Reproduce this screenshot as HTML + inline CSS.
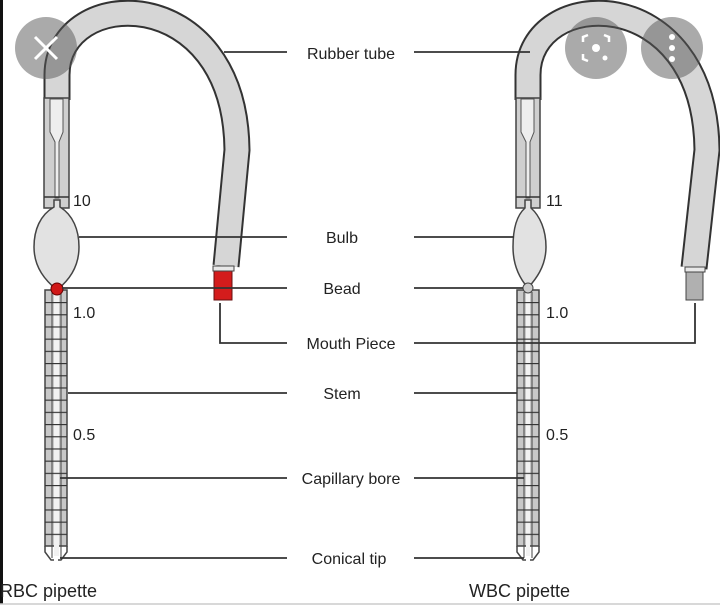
<!DOCTYPE html>
<html><head><meta charset="utf-8"><style>
html,body{margin:0;padding:0;background:#fff;}
svg{display:block;}
text{font-family:"Liberation Sans",sans-serif;fill:#222;}
</style></head><body>
<svg width="720" height="610" viewBox="0 0 720 610" xmlns="http://www.w3.org/2000/svg">
<defs>
<pattern id="tk" x="0" y="302" width="10" height="12.2" patternUnits="userSpaceOnUse">
<line x1="0" y1="0.5" x2="10" y2="0.5" stroke="#333" stroke-width="1.3"/>
</pattern>
</defs>
<rect width="720" height="610" fill="#fff"/>
<line x1="1.5" y1="0" x2="1.5" y2="604" stroke="#111" stroke-width="3"/>
<line x1="0" y1="604" x2="720" y2="604" stroke="#ccc" stroke-width="1.5"/>

<!-- LEFT PIPETTE -->
<g>
<path d="M57,100 L57,75 C57,-15 235,-20 237,150 L226,266" fill="none" stroke="#333" stroke-width="27"/>
<path d="M57,100 L57,75 C57,-15 235,-20 237,150 L226,266" fill="none" stroke="#d6d6d6" stroke-width="23"/>
<rect x="44" y="98" width="25" height="110" fill="#cfcfcf" stroke="#444" stroke-width="1.5"/>
<path d="M50,99 L63,99 L63,132 L59,142 L59,198 L55,198 L55,142 L50,132 Z" fill="#eee" stroke="#555" stroke-width="1"/>
<line x1="44" y1="197" x2="69" y2="197" stroke="#333" stroke-width="1.5"/>
<path d="M54,200 L54,207 C40,215 34,230 34,247 C34,268 46,281 57,290 C68,281 79,268 79,247 C79,230 73,215 60,207 L60,200Z" fill="#e2e2e2" stroke="#444" stroke-width="1.5"/>
<rect x="45" y="290" width="22" height="256" fill="#c8c8c8" stroke="#444" stroke-width="1.5"/>
<rect x="54" y="292" width="5" height="264" fill="#f2f2f2"/>
<line x1="52" y1="292" x2="52" y2="558" stroke="#444" stroke-width="1"/>
<line x1="61" y1="292" x2="61" y2="558" stroke="#444" stroke-width="1"/>
<rect x="45" y="292" width="22" height="254" fill="url(#tk)"/>
<path d="M45,546 L45,552 L51,560 L54,560 M67,546 L67,552 L61,560 L58,560" fill="none" stroke="#444" stroke-width="1.5"/>
<circle cx="57" cy="289" r="6" fill="#d01818" stroke="#600" stroke-width="1"/>
<rect x="214" y="270" width="18" height="30" fill="#d41c1c" stroke="#611" stroke-width="1"/>
<rect x="213" y="266" width="21" height="5" fill="#e8e8e8" stroke="#444" stroke-width="1"/>
</g>

<!-- RIGHT PIPETTE -->
<g>
<path d="M528,100 L528,75 C528,-15 705,-20 707,150 L694,268" fill="none" stroke="#333" stroke-width="27"/>
<path d="M528,100 L528,75 C528,-15 705,-20 707,150 L694,268" fill="none" stroke="#d6d6d6" stroke-width="23"/>
<rect x="516" y="98" width="24" height="110" fill="#cfcfcf" stroke="#444" stroke-width="1.5"/>
<path d="M521,99 L534,99 L534,132 L530,142 L530,198 L526,198 L526,142 L521,132 Z" fill="#eee" stroke="#555" stroke-width="1"/>
<line x1="516" y1="197" x2="540" y2="197" stroke="#333" stroke-width="1.5"/>
<path d="M525,200 L525,208 C516,216 513,230 513,247 C513,267 521,280 528,288 C535,280 546,267 546,247 C546,230 540,216 531,208 L531,200Z" fill="#e2e2e2" stroke="#444" stroke-width="1.5"/>
<rect x="517" y="290" width="22" height="256" fill="#c8c8c8" stroke="#444" stroke-width="1.5"/>
<rect x="526" y="292" width="4" height="264" fill="#f2f2f2"/>
<line x1="524" y1="292" x2="524" y2="558" stroke="#444" stroke-width="1"/>
<line x1="532" y1="292" x2="532" y2="558" stroke="#444" stroke-width="1"/>
<rect x="517" y="292" width="22" height="254" fill="url(#tk)"/>
<path d="M517,546 L517,552 L523,560 L526,560 M539,546 L539,552 L533,560 L530,560" fill="none" stroke="#444" stroke-width="1.5"/>
<circle cx="528" cy="288" r="5" fill="#ccc" stroke="#444" stroke-width="1"/>
<rect x="686" y="272" width="17" height="28" fill="#b0b0b0" stroke="#444" stroke-width="1"/>
<rect x="685" y="267" width="20" height="5" fill="#e8e8e8" stroke="#444" stroke-width="1"/>
</g>

<!-- leader lines -->
<g stroke="#333" stroke-width="1.8" fill="none">
<line x1="224" y1="52" x2="287" y2="52"/>
<line x1="79" y1="237" x2="287" y2="237"/>
<line x1="62" y1="288" x2="287" y2="288"/>
<path d="M220,303 L220,343 L287,343"/>
<line x1="68" y1="393" x2="287" y2="393"/>
<line x1="60" y1="478" x2="287" y2="478"/>
<line x1="60" y1="558" x2="287" y2="558"/>
<line x1="414" y1="52" x2="530" y2="52"/>
<line x1="414" y1="237" x2="514" y2="237"/>
<line x1="414" y1="288" x2="523" y2="288"/>
<path d="M414,343 L695,343 L695,303"/>
<line x1="414" y1="393" x2="517" y2="393"/>
<line x1="414" y1="478" x2="524" y2="478"/>
<line x1="414" y1="558" x2="524" y2="558"/>
</g>

<g font-size="16" text-anchor="middle">
<text x="351" y="59">Rubber tube</text>
<text x="342" y="243">Bulb</text>
<text x="342" y="294">Bead</text>
<text x="351" y="349">Mouth Piece</text>
<text x="342" y="399">Stem</text>
<text x="351" y="484">Capillary bore</text>
<text x="349" y="564">Conical tip</text>
</g>
<g font-size="16">
<text x="73" y="206">10</text>
<text x="73" y="318">1.0</text>
<text x="73" y="440">0.5</text>
<text x="546" y="206">11</text>
<text x="546" y="318">1.0</text>
<text x="546" y="440">0.5</text>
<text x="0" y="597" font-size="18">RBC pipette</text>
<text x="469" y="597" font-size="18">WBC pipette</text>
</g>

<!-- overlay buttons -->
<circle cx="46" cy="48" r="31" fill="#555" fill-opacity="0.5"/>
<path d="M35,37 L57,59 M57,37 L35,59" stroke="#fff" stroke-width="3"/>
<circle cx="596" cy="48" r="31" fill="#555" fill-opacity="0.5"/>
<path d="M583,42 L583,37 L588,35 M604,35 L609,37 L609,42 M583,54 L583,59 L588,61" fill="none" stroke="#fff" stroke-width="2.5"/>
<circle cx="596" cy="48" r="4" fill="#fff"/>
<circle cx="605" cy="58" r="2.5" fill="#fff"/>
<circle cx="672" cy="48" r="31" fill="#555" fill-opacity="0.5"/>
<circle cx="672" cy="37" r="3" fill="#fff"/>
<circle cx="672" cy="48" r="3" fill="#fff"/>
<circle cx="672" cy="59" r="3" fill="#fff"/>
</svg>
</body></html>
